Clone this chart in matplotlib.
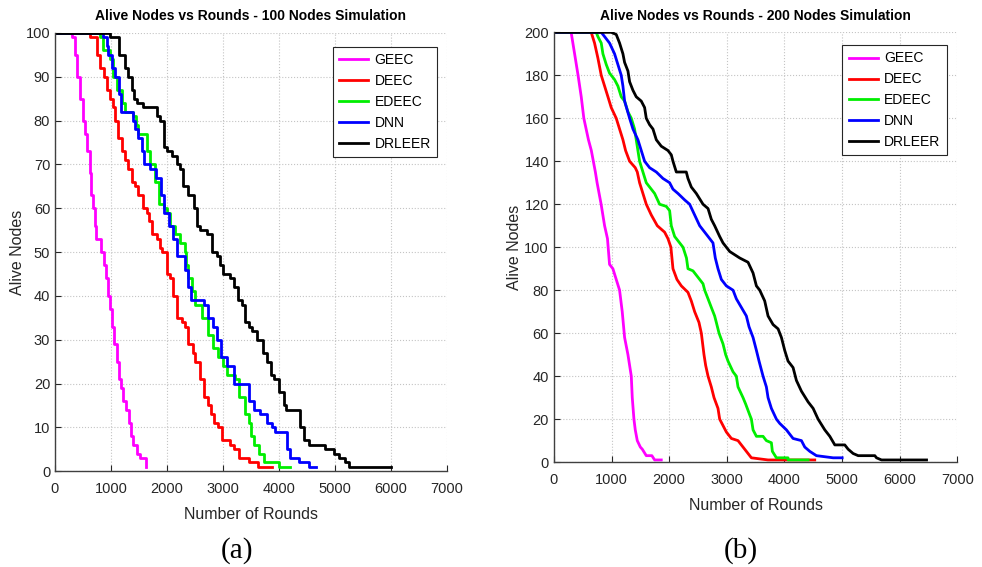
import matplotlib
matplotlib.use("Agg")
import matplotlib.pyplot as plt
from matplotlib import font_manager

# ================= Daten =================
labels = ["GEEC", "DEEC", "EDEEC", "DNN", "DRLEER"]
colors = ["#ff00ff", "#ff0000", "#00ee00", "#0000ff", "#000000"]

# --- (a) 100 Knoten: Stufenpunkte (Runde, lebende Knoten) ---
a_geec_x = [0, 300, 350, 400, 450, 500, 540, 580, 620, 650, 680, 710, 740, 820, 870, 910, 940,
            980, 1020, 1060, 1100, 1140, 1180, 1220, 1270, 1320, 1360, 1400, 1470, 1510, 1620]
a_geec_y = [100, 99, 95, 90, 85, 80, 77, 73, 68, 63, 60, 56, 53, 50, 47, 44, 40,
            37, 33, 29, 25, 21, 19, 16, 14, 11, 8, 6, 4, 3, 1]

a_deec_x = [0, 630, 750, 805, 875, 925, 985, 1035, 1075, 1130, 1205, 1255, 1310, 1380, 1430, 1490,
            1570, 1640, 1680, 1740, 1820, 1880, 1910, 2000, 2060, 2100, 2180, 2270, 2315, 2385, 2465,
            2505, 2595, 2665, 2725, 2785, 2835, 2920, 2980, 3130, 3190, 3280, 3460, 3620, 3870]
a_deec_y = [100, 99, 95, 92, 90, 87, 85, 83, 80, 76, 73, 71, 69, 66, 65, 63,
            60, 59, 57, 54, 53, 51, 50, 45, 44, 40, 35, 34, 33, 29, 27,
            25, 21, 17, 15, 13, 11, 10, 7, 6, 5, 3, 2, 1, 1]

a_edeec_x = [0, 800, 860, 985, 1040, 1115, 1190, 1250, 1400, 1450, 1490, 1640, 1700, 1790, 1865,
             1940, 2000, 2060, 2145, 2235, 2315, 2345, 2385, 2440, 2505, 2625, 2740, 2830, 2920,
             3010, 3070, 3220, 3280, 3400, 3460, 3500, 3560, 3640, 3730, 3995, 4200]
a_edeec_y = [100, 99, 96, 94, 90, 87, 84, 82, 81, 79, 77, 73, 70, 66, 61,
             60, 59, 56, 54, 52, 50, 47, 44, 41, 38, 35, 31, 28, 26,
             24, 22, 21, 17, 13, 11, 8, 6, 4, 2, 1, 1]

a_dnn_x = [0, 865, 925, 955, 1015, 1075, 1135, 1175, 1400, 1430, 1490, 1550, 1590, 1700, 1810,
           1890, 1940, 2030, 2115, 2175, 2325, 2375, 2435, 2665, 2740, 2830, 2890, 2965, 3070,
           3190, 3460, 3550, 3670, 3785, 3875, 3935, 4145, 4205, 4355, 4530, 4670]
a_dnn_y = [100, 99, 97, 95, 92, 90, 86, 82, 80, 78, 76, 73, 70, 69, 67,
           63, 59, 56, 53, 49, 46, 42, 39, 38, 35, 33, 30, 26, 24,
           20, 16, 14, 13, 11, 10, 9, 5, 3, 2, 1, 1]

a_drleer_x = [0, 985, 1135, 1250, 1310, 1370, 1410, 1470, 1580, 1820, 1880, 1940, 2000, 2090,
              2180, 2235, 2295, 2385, 2475, 2535, 2595, 2715, 2805, 2890, 2950, 3010, 3130, 3190,
              3275, 3345, 3400, 3460, 3520, 3605, 3725, 3785, 3855, 3915, 3995, 4085, 4135, 4385,
              4440, 4530, 4620, 4830, 4980, 5070, 5190, 5250, 5400, 6000]
a_drleer_y = [100, 99, 95, 92, 90, 87, 85, 84, 83, 81, 80, 74, 73, 72,
              70, 69, 65, 63, 60, 56, 55, 54, 50, 49, 47, 45, 44, 42,
              39, 38, 34, 33, 32, 30, 27, 25, 22, 21, 18, 15, 14, 10,
              7, 6, 6, 5, 4, 3, 2, 1, 1, 1]

# --- (b) 200 Knoten: Kurvenpunkte (Runde, lebende Knoten) ---
b_geec_x = [0, 300, 360, 420, 475, 520, 600, 650, 720, 750, 820, 880, 930, 966, 1024, 1082,
            1140, 1186, 1227, 1285, 1343, 1360, 1389, 1412, 1447, 1500, 1534, 1603, 1700, 1748, 1863]
b_geec_y = [200, 200, 190, 180, 170, 160, 150, 145, 135, 130, 120, 110, 104, 92, 90, 85,
            80, 70, 58, 50, 40, 30, 20, 15, 10, 7, 6, 3, 3, 1, 1]

b_deec_x = [0, 648, 706, 764, 822, 880, 938, 995, 1082, 1140, 1198, 1244, 1314, 1412, 1447,
            1487, 1545, 1603, 1690, 1794, 1921, 1979, 2030, 2066, 2135, 2211, 2326, 2384, 2442,
            2517, 2558, 2604, 2633, 2674, 2731, 2778, 2847, 2876, 2934, 2992, 3079, 3194, 3252,
            3339, 3426, 3715, 4525]
b_deec_y = [200, 200, 195, 188, 180, 175, 170, 165, 160, 155, 150, 145, 140, 137, 135,
            130, 125, 120, 115, 110, 107, 104, 100, 90, 85, 82, 79, 75, 70,
            65, 60, 50, 45, 40, 35, 30, 25, 20, 17, 14, 11, 10, 8,
            5, 2, 1, 1]

b_edeec_x = [0, 735, 764, 822, 851, 909, 966, 1053, 1111, 1169, 1227, 1285, 1343, 1400, 1429,
             1458, 1487, 1545, 1603, 1690, 1748, 1834, 1950, 2008, 2037, 2095, 2153, 2240, 2300,
             2326, 2413, 2500, 2587, 2616, 2674, 2731, 2789, 2818, 2865, 2934, 2980, 3021, 3108,
             3165, 3194, 3281, 3327, 3397, 3426, 3455, 3513, 3628, 3686, 3773, 3790, 3860, 4062,
             4062, 4410]
b_edeec_y = [200, 200, 198, 195, 190, 185, 181, 178, 175, 170, 168, 163, 160, 155, 150,
             145, 140, 135, 130, 127, 125, 120, 119, 117, 110, 105, 103, 100, 95,
             90, 89, 86, 83, 80, 76, 72, 68, 65, 60, 55, 50, 47, 42,
             40, 35, 30, 27, 22, 20, 15, 12, 12, 10, 9, 5, 2, 2,
             1, 1]

b_dnn_x = [0, 822, 880, 966, 1053, 1111, 1169, 1198, 1227, 1314, 1372, 1458, 1516, 1574, 1661,
           1777, 1892, 2008, 2066, 2153, 2269, 2355, 2442, 2529, 2674, 2760, 2800, 2847, 2905,
           2992, 3108, 3165, 3252, 3339, 3385, 3455, 3513, 3559, 3628, 3686, 3715, 3773, 3860,
           3918, 4034, 4091, 4149, 4294, 4352, 4439, 4554, 4844, 5000]
b_dnn_y = [200, 200, 198, 195, 190, 185, 180, 175, 168, 160, 155, 150, 145, 140, 137,
           135, 132, 130, 127, 125, 122, 120, 115, 110, 105, 102, 95, 90, 85,
           82, 80, 76, 72, 68, 63, 58, 52, 47, 40, 35, 30, 25, 20,
           18, 15, 13, 11, 10, 7, 5, 3, 2, 2]

b_drleer_x = [0, 995, 1082, 1140, 1198, 1227, 1285, 1314, 1372, 1429, 1516, 1574, 1603, 1661,
              1719, 1777, 1863, 1979, 2037, 2066, 2124, 2297, 2326, 2384, 2471, 2587, 2674, 2731,
              2789, 2876, 2934, 3050, 3223, 3368, 3455, 3513, 3571, 3657, 3715, 3802, 3889, 3947,
              4004, 4062, 4149, 4207, 4294, 4410, 4497, 4583, 4699, 4786, 4873, 5046, 5104, 5191,
              5278, 5567, 5596, 5683, 6464]
b_drleer_y = [200, 200, 199, 195, 190, 186, 182, 177, 173, 170, 168, 165, 160, 157,
              155, 150, 147, 145, 143, 140, 135, 135, 132, 128, 125, 120, 118, 113,
              110, 105, 102, 98, 95, 93, 88, 82, 80, 75, 68, 64, 62, 58,
              52, 47, 44, 38, 33, 28, 25, 20, 15, 12, 8, 8, 6, 4,
              3, 3, 2, 1, 1]

x_ticks = [0, 1000, 2000, 3000, 4000, 5000, 6000, 7000]
a_yticks = list(range(0, 101, 10))
b_yticks = list(range(0, 201, 20))

# ================= Schrift =================
installed = {f.name for f in font_manager.fontManager.ttflist}
sans = [f for f in ["Liberation Sans Narrow", "Liberation Sans", "DejaVu Sans"] if f in installed]
plt.rcParams["font.family"] = sans
serif = [f for f in ["Liberation Serif", "DejaVu Serif"] if f in installed]

# ================= Plot =================
fig = plt.figure(figsize=(9.82, 5.67), dpi=100)

def style_axes(ax, ymax, yticks, title, ylab, ylab_x):
    ax.set_xlim(0, 7000)
    ax.set_ylim(0, ymax)
    ax.set_xticks(x_ticks)
    ax.set_yticks(yticks)
    ax.tick_params(direction="in", length=4, labelsize=10.5, colors="#262626",
                   top=False, right=False)
    ax.tick_params(axis="x", pad=8)
    for side in ["top", "right"]:
        ax.spines[side].set_visible(False)
    for side in ["left", "bottom"]:
        ax.spines[side].set_color("#404040")
        ax.spines[side].set_linewidth(1.0)
    ax.grid(True, linestyle=":", linewidth=0.8, color="#c4c4c4")
    ax.set_title(title, fontsize=10, fontweight="bold", pad=9)
    ax.set_xlabel("Number of Rounds", fontsize=11.5, color="#262626", labelpad=8)
    ax.set_ylabel(ylab, fontsize=11.5, color="#262626")
    ax.yaxis.set_label_coords(ylab_x, 0.5)

def add_legend(ax, anchor):
    leg = ax.legend(loc="upper right", bbox_to_anchor=anchor, borderaxespad=0,
                    fontsize=10, fancybox=False, edgecolor="#262626", framealpha=1,
                    handlelength=2.1, handletextpad=0.45, borderpad=0.45,
                    labelspacing=0.5)
    leg.get_frame().set_linewidth(0.8)

# (a)
ax1 = fig.add_axes([0.056, 0.169, 0.399, 0.773])
a_series = [(a_geec_x, a_geec_y), (a_deec_x, a_deec_y), (a_edeec_x, a_edeec_y),
            (a_dnn_x, a_dnn_y), (a_drleer_x, a_drleer_y)]
for (xs, ys), lab, c in zip(a_series, labels, colors):
    ax1.plot(xs, ys, drawstyle="steps-post", lw=2.0, color=c, label=lab)
style_axes(ax1, 100, a_yticks, "Alive Nodes vs Rounds - 100 Nodes Simulation", "Alive Nodes", -0.077)
add_legend(ax1, (0.975, 0.968))

# (b)
ax2 = fig.add_axes([0.564, 0.185, 0.411, 0.758])
b_series = [(b_geec_x, b_geec_y), (b_deec_x, b_deec_y), (b_edeec_x, b_edeec_y),
            (b_dnn_x, b_dnn_y), (b_drleer_x, b_drleer_y)]
for (xs, ys), lab, c in zip(b_series, labels, colors):
    ax2.plot(xs, ys, lw=2.0, color=c, label=lab)
style_axes(ax2, 200, b_yticks, "Alive Nodes vs Rounds - 200 Nodes Simulation", "Alive Nodes", -0.079)
add_legend(ax2, (0.973, 0.970))

# Unterbeschriftungen
fig.text(0.241, 0.006, "(a)", fontsize=21, family=serif, ha="center", va="bottom")
fig.text(0.754, 0.006, "(b)", fontsize=21, family=serif, ha="center", va="bottom")

fig.savefig("out.png", dpi=100)
plt.close(fig)
